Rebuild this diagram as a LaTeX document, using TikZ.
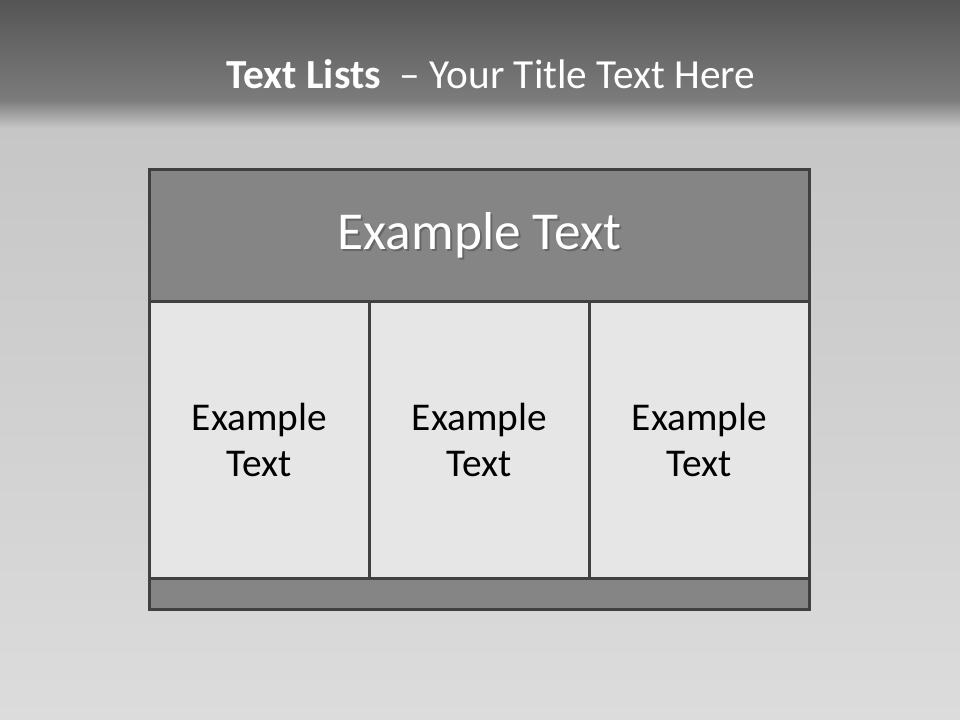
\documentclass[tikz,border=0pt]{standalone}
\usepackage{fontspec}
\setmainfont{Carlito}
\usepackage{tikz}
\usepackage{xcolor}

\definecolor{bandtop}{HTML}{555555}
\definecolor{bandlow}{HTML}{7C7C7C}
\definecolor{backhi}{HTML}{C6C6C6}
\definecolor{backlow}{HTML}{DCDCDC}
\definecolor{headgray}{HTML}{858585}
\definecolor{cellgray}{HTML}{E6E6E6}
\definecolor{rulegray}{HTML}{404040}

\begin{document}
\begin{tikzpicture}[x=0.75pt,y=-0.75pt,
  cellbox/.style={draw=rulegray, line width=2.2pt, fill=cellgray, minimum width=220*0.75pt,
    minimum height=277*0.75pt, inner sep=0pt, anchor=north west, align=center,
    font=\fontsize{29.5}{34}\selectfont, text=black},
  barbox/.style={draw=rulegray, line width=2.2pt, fill=headgray, inner sep=0pt,
    minimum width=660*0.75pt, anchor=north west}]
  % background
  \useasboundingbox (0,0) rectangle (960,720);
  \shade[top color=backhi, bottom color=backlow] (0,125) rectangle (960,720);
  \shade[top color=bandlow, bottom color=backhi] (0,100) rectangle (960,128);
  \shade[top color=bandtop, bottom color=bandlow] (0,0) rectangle (960,101);
  % title
  \node[text=white, font=\fontsize{31}{35}\selectfont] (title) at (491,74)
    {\textbf{Text Lists}\ \ -- Your Title Text Here};
  % header bar
  \node[barbox, minimum height=132*0.75pt] (head) at (148,168) {};
  \node[text=black!60, font=\fontsize{40}{44}\selectfont] (headshadow) at ([xshift=1.5pt,yshift=-1.5pt]head.center) {Example Text};
  \node[text=white, font=\fontsize{40}{44}\selectfont] (headtext) at (head.center) {Example Text};
  % columns
  \node[cellbox] (colA) at (148,300) {Example\\Text};
  \node[cellbox] (colB) at (368,300) {Example\\Text};
  \node[cellbox] (colC) at (588,300) {Example\\Text};
  % footer bar
  \node[barbox, minimum height=31*0.75pt] (foot) at (148,577) {};
\end{tikzpicture}
\end{document}
